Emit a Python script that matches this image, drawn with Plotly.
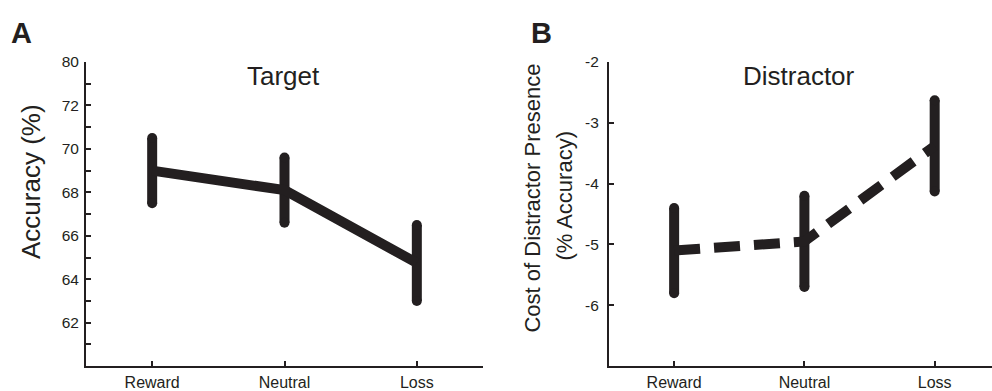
import plotly.graph_objects as go

categories = ["Reward", "Neutral", "Loss"]
target_mean = [69.0, 68.1, 64.75]
target_err = [1.5, 1.5, 1.75]
distractor_mean = [-5.1, -4.95, -3.38]
distractor_err = [0.7, 0.75, 0.75]

a_ytickvals = [62, 64, 66, 68, 70, 72, 74]
a_yticktext = ["62", "64", "66", "68", "70", "72", "80"]
a_yminor = [61, 63, 65, 67, 69, 71, 73]
b_ytickvals = [-6, -5, -4, -3, -2]
b_yticktext = ["-6", "-5", "-4", "-3", "-2"]

INK = "#231f20"
FONT = "Liberation Sans, Arial, Helvetica, sans-serif"
W, H = 992, 391

fig = go.Figure()

def add_panel(mean, err, xa, ya, dash):
    fig.add_trace(go.Scatter(
        x=categories, y=mean, mode="lines",
        line=dict(color=INK, width=10, dash=dash),
        error_y=dict(type="data", array=err, visible=True, color=INK,
                     thickness=10, width=0),
        xaxis=xa, yaxis=ya, showlegend=False, hoverinfo="skip"))
    ends_x = categories + categories
    ends_y = [m + e for m, e in zip(mean, err)] + [m - e for m, e in zip(mean, err)]
    fig.add_trace(go.Scatter(
        x=ends_x, y=ends_y, mode="markers",
        marker=dict(color=INK, size=10, line=dict(width=0)),
        xaxis=xa, yaxis=ya, showlegend=False, hoverinfo="skip"))

add_panel(target_mean, target_err, "x", "y", "solid")
add_panel(distractor_mean, distractor_err, "x2", "y2", "26px,14px")

y_dom = [1 - 367.5 / H, 1 - 54.5 / H]
line_common = dict(showline=True, linecolor=INK, linewidth=2, ticks="inside",
                   ticklen=5, tickwidth=2, tickcolor=INK, showgrid=False,
                   zeroline=False)
xfont = dict(family=FONT, size=16, color=INK)
yfont = dict(family=FONT, size=15.5, color=INK)

fig.update_layout(
    width=W, height=H, margin=dict(l=0, r=0, t=0, b=0),
    paper_bgcolor="white", plot_bgcolor="white",
    font=dict(family=FONT, color=INK),
    xaxis=dict(domain=[86 / W, 483 / W], range=[-0.5, 2.5], anchor="y",
               type="category", tickfont=xfont, ticklabelstandoff=1, **line_common),
    yaxis=dict(domain=y_dom, range=[60, 74], anchor="x",
               tickmode="array", tickvals=a_ytickvals, ticktext=a_yticktext,
               minor=dict(tickvals=a_yminor, ticks="inside", ticklen=5,
                          tickwidth=2, tickcolor=INK),
               tickfont=yfont, ticklabelstandoff=2, **line_common),
    xaxis2=dict(domain=[609 / W, 1.0], range=[-0.5, 2.44], anchor="y2",
                type="category", tickfont=xfont, ticklabelstandoff=1, **line_common),
    yaxis2=dict(domain=y_dom, range=[-7, -2], anchor="x2",
                tickmode="array", tickvals=b_ytickvals, ticktext=b_yticktext,
                tickfont=yfont, ticklabelstandoff=5, **line_common),
)

def ann(text, px, py, size, bold=False, angle=0):
    fig.add_annotation(text=f"<b>{text}</b>" if bold else text,
                       x=px / W, y=1 - py / H, xref="paper", yref="paper",
                       showarrow=False, textangle=angle,
                       font=dict(family=FONT, size=size, color=INK),
                       xanchor="center", yanchor="middle")

ann("A", 21, 25, 29, bold=True)
ann("B", 541, 25, 29, bold=True)
ann("Target", 283, 69, 26)
ann("Distractor", 799, 69, 26)
ann("Accuracy (%)", 31, 178, 26, angle=-90)
ann("Cost of Distractor Presence", 533, 195, 22, angle=-90)
ann("(% Accuracy)", 565, 192, 22, angle=-90)

fig.write_html("out.html")
